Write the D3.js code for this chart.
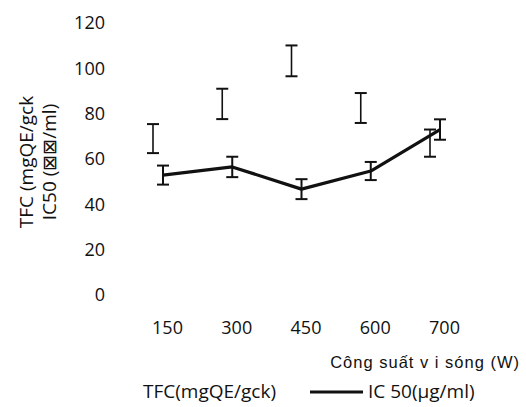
<!DOCTYPE html>
<html lang="vi">
  <head>
    <meta charset="UTF-8" />
    <title>TFC - IC50</title>
    <style>
      body { margin: 0; background: #fff; }
      .axis path, .axis line { display: none; }
      .lbl { font-family: 'Open Sans', sans-serif; fill: #111; }
      .lbl2 { font-family: 'Liberation Sans', Arial, sans-serif; fill: #111; }
    </style>
    <script src="https://d3js.org/d3.v7.min.js"></script>
  </head>
  <body>
    <svg width="526" height="407"></svg>
    <script>
      var categories = ['150', '300', '450', '600', '700']
      var tfc = [69, 84.3, 103.3, 82.5, 67]
      var tfcErr = [6.4, 6.7, 6.8, 6.6, 6]
      var ic50 = [52.9, 56.5, 46.7, 54.7, 73]
      var ic50Err = [4.2, 4.5, 4.4, 4, 4.5]
      var yTicks = [0, 20, 40, 60, 80, 100, 120]

      var svg = d3.select('svg')

      var x = d3.scalePoint().domain(categories).range([163, 440])
      var y = d3.scaleLinear().domain([0, 120]).range([295, 23])
      // TFC bars sit a bit to the left of the IC50 ones
      var shift = d3.scalePoint().domain(['tfc', 'ic50']).range([-10, 0])

      function styleTicks(g) {
        g.selectAll('text')
          .style('font-family', "'Open Sans', sans-serif")
          .style('font-size', '18px')
          .style('fill', '#111')
      }

      // y axis
      svg.append('g')
        .attr('class', 'axis')
        .attr('transform', 'translate(105,0)')
        .call(d3.axisLeft(y).tickValues(yTicks).tickSize(0).tickPadding(0))
        .call(styleTicks)

      // x axis
      svg.append('g')
        .attr('class', 'axis')
        .attr('transform', 'translate(4,321)')
        .call(d3.axisBottom(x).tickSize(0).tickPadding(0))
        .call(styleTicks)

      function errorBars(vals, errs, key, sw) {
        var g = svg.append('g')
        var data = vals.map(function(v, i) { return { c: categories[i], v: v, e: errs[i] } })
        var cx = function(d) { return x(d.c) + shift(key) }
        g.selectAll('line.v').data(data).enter().append('line')
          .attr('x1', cx).attr('x2', cx)
          .attr('y1', function(d) { return y(d.v + d.e) })
          .attr('y2', function(d) { return y(d.v - d.e) })
          .attr('stroke', '#111').attr('stroke-width', sw)
        ;[1, -1].forEach(function(s) {
          g.selectAll('line.c' + s).data(data).enter().append('line')
            .attr('x1', function(d) { return cx(d) - 6 })
            .attr('x2', function(d) { return cx(d) + 6 })
            .attr('y1', function(d) { return y(d.v + s * d.e) })
            .attr('y2', function(d) { return y(d.v + s * d.e) })
            .attr('stroke', '#111').attr('stroke-width', 2)
        })
      }

      errorBars(tfc, tfcErr, 'tfc', 1.6)

      var line = d3.line()
        .x(function(d, i) { return x(categories[i]) + shift('ic50') })
        .y(function(d) { return y(d) })
      svg.append('path')
        .datum(ic50)
        .attr('d', line)
        .attr('fill', 'none')
        .attr('stroke', '#111')
        .attr('stroke-width', 3.2)
        .attr('stroke-linejoin', 'round')

      errorBars(ic50, ic50Err, 'ic50', 2)

      // y axis title (two lines, rotated)
      var yt = svg.append('text')
        .attr('class', 'lbl')
        .attr('transform', 'translate(0,162) rotate(-90)')
        .attr('text-anchor', 'middle')
        .style('font-size', '19px')
      yt.append('tspan').attr('x', 0).attr('y', 33).text('TFC (mgQE/gck')
      yt.append('tspan').attr('x', 0).attr('y', 56).text('IC50 (⊠⊠/ml)')

      // x axis title
      svg.append('text')
        .attr('class', 'lbl2')
        .attr('x', 520).attr('y', 368)
        .attr('text-anchor', 'end')
        .style('font-size', '16.5px')
        .style('letter-spacing', '1px')
        .text('Công suất v i sóng (W)')

      // legend
      svg.append('text')
        .attr('class', 'lbl')
        .attr('x', 143).attr('y', 398)
        .style('font-size', '19px')
        .text('TFC(mgQE/gck)')
      svg.append('line')
        .attr('x1', 310).attr('x2', 363)
        .attr('y1', 392).attr('y2', 392)
        .attr('stroke', '#111').attr('stroke-width', 3)
      svg.append('text')
        .attr('class', 'lbl')
        .attr('x', 368).attr('y', 398)
        .style('font-size', '19px')
        .text('IC 50(µg/ml)')
    </script>
  </body>
</html>
